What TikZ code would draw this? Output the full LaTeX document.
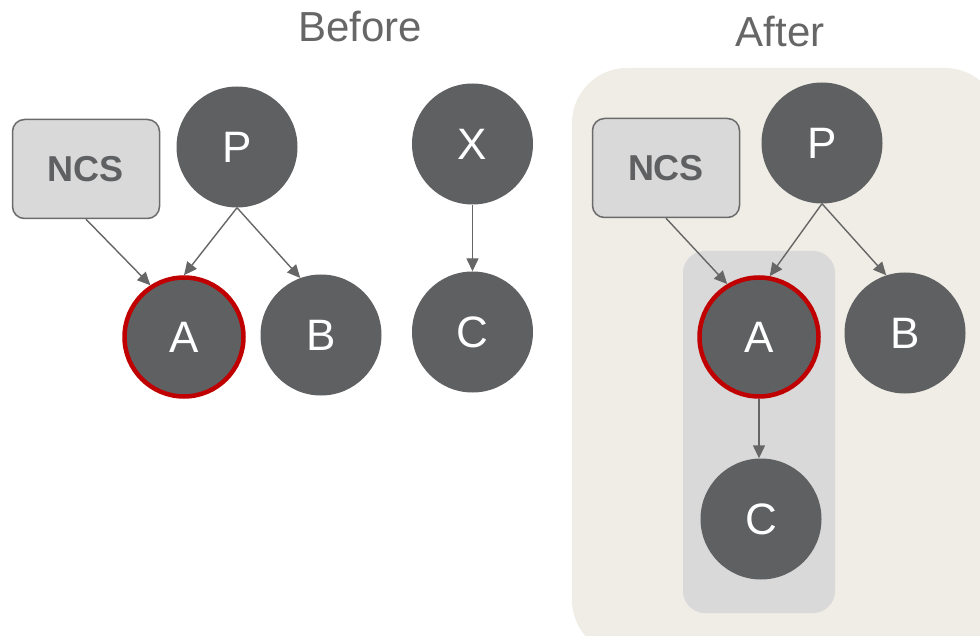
\documentclass[tikz,border=0pt]{standalone}
\usepackage{fontspec}
\setmainfont{Liberation Sans}
\usetikzlibrary{arrows.meta}
\definecolor{nodegray}{HTML}{5F6062}
\definecolor{boxgray}{HTML}{D9D9D9}
\definecolor{boxline}{HTML}{6B6B6B}
\definecolor{linkgray}{HTML}{666666}
\definecolor{hilite}{HTML}{C00000}
\definecolor{panel}{HTML}{EFEDE5}
\definecolor{titlegray}{HTML}{666666}
\tikzset{
  vnode/.style={circle, fill=nodegray, minimum size=121pt, inner sep=0pt,
    text=white, font=\fontsize{44}{44}\selectfont},
  selnode/.style={vnode, draw=hilite, line width=4.5pt, minimum size=119pt},
  ncsbox/.style={rectangle, rounded corners=12pt, fill=boxgray, draw=boxline,
    line width=1.5pt, minimum width=147pt, minimum height=99pt, inner sep=0pt,
    text=nodegray, font=\fontsize{36}{36}\selectfont\bfseries},
  link/.style={draw=linkgray, line width=1.4pt,
    -{Triangle[length=13pt, width=12pt]}},
  heading/.style={text=titlegray, font=\fontsize{42}{42}\selectfont}
}
\begin{document}
\begin{tikzpicture}[x=1pt, y=-1pt]
  \useasboundingbox (0,0) rectangle (980,636);
  \begin{scope}
    \clip (0,0) rectangle (980,636);
    % group panel and scope box
    \path[fill=panel, rounded corners=55pt] (572,68) rectangle (1000,655);
    \path[fill=boxgray, rounded corners=22pt] (683,251) rectangle (835,613);
  \end{scope}

  % headings
  \node[heading] (tbefore) at (360,27) {Before};
  \node[heading] (tafter) at (780,32) {After};

  % left graph
  \node[ncsbox] (ncs1) at (86,169) {NCS};
  \node[vnode] (p1) at (237,147) {P};
  \node[selnode] (a1) at (184,337) {A};
  \node[vnode] (b1) at (321,335) {B};
  \node[vnode] (x1) at (472.5,144) {X};
  \node[vnode] (c1) at (472.5,332) {C};

  \draw[link] (ncs1.south) -- (a1.123);
  \draw[link] (p1.south) -- (a1.north);
  \draw[link] (p1.south) -- (b1.110);
  \draw[link] (x1.south) -- (c1.north);

  % right graph
  \node[ncsbox] (ncs2) at (666,168) {NCS};
  \node[vnode] (p2) at (822,143) {P};
  \node[selnode] (a2) at (759,337) {A};
  \node[vnode] (b2) at (905,333) {B};
  \node[vnode] (c2) at (761,519) {C};

  \draw[link] (ncs2.south) -- (a2.121);
  \draw[link] (p2.south) -- (a2.80);
  \draw[link] (p2.south) -- (b2.108);
  \draw[link] (a2.south) -- (a2.south |- c2.north);
\end{tikzpicture}
\end{document}
